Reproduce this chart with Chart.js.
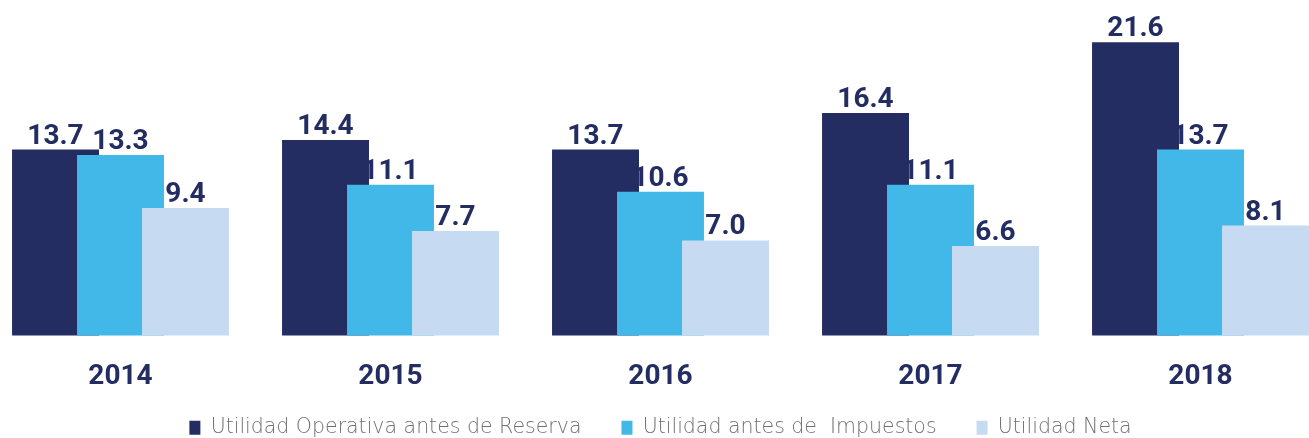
<!DOCTYPE html>
<html>
<head>
  <meta charset="UTF-8">
  <title>Utilidades 2014-2018</title>
  <script src="https://cdn.jsdelivr.net/npm/chart.js"></script>
  <style>
    body { margin: 0; background: #fff; }
    .chart-box { position: relative; width: 1309px; height: 438px; }
  </style>
</head>
<body>
  <div class="chart-box">
    <canvas id="utilChart"></canvas>
  </div>

  <script>
    // Data
    const years = ['2014', '2015', '2016', '2017', '2018'];
    const seriesNames = ['Utilidad Operativa antes de Reserva', 'Utilidad antes de  Impuestos', 'Utilidad Neta'];
    const operativa = [13.7, 14.4, 13.7, 16.4, 21.6];
    const antesImpuestos = [13.3, 11.1, 10.6, 11.1, 13.7];
    const neta = [9.4, 7.7, 7.0, 6.6, 8.1];

    const colors = ['#232d62', '#42b8e8', '#c6daf1'];
    const navy = '#232d62';

    // bars overlap; draw them left to right so the right one sits on top,
    // then the value labels and the year labels
    const drawInOrder = {
      id: 'drawInOrder',
      beforeDatasetsDraw(chart) {
        chart.data.datasets.forEach((ds, i) => {
          chart.getDatasetMeta(i).controller.draw();
        });
        return false;
      },
      afterDraw(chart) {
        const ctx = chart.ctx;
        ctx.save();
        ctx.font = 'bold 28px Roboto, sans-serif';
        ctx.fillStyle = navy;
        ctx.textAlign = 'center';
        ctx.textBaseline = 'alphabetic';
        chart.data.datasets.forEach((ds, i) => {
          chart.getDatasetMeta(i).data.forEach((bar, j) => {
            ctx.fillText(ds.data[j].toFixed(1), bar.x, bar.y - 6);
          });
        });
        // year labels sit lower than the axis box allows
        const xScale = chart.scales.x;
        ctx.textBaseline = 'middle';
        xScale.ticks.forEach((t, i) => {
          ctx.fillText(xScale.getLabelForValue(t.value), xScale.getPixelForTick(i), chart.chartArea.bottom + 41);
        });
        ctx.restore();
      }
    };

    new Chart(document.getElementById('utilChart').getContext('2d'), {
      type: 'bar',
      data: {
        labels: years,
        datasets: [
          { label: seriesNames[0], data: operativa, backgroundColor: colors[0] },
          { label: seriesNames[1], data: antesImpuestos, backgroundColor: colors[1] },
          { label: seriesNames[2], data: neta, backgroundColor: colors[2] }
        ]
      },
      options: {
        responsive: true,
        maintainAspectRatio: false,
        animation: false,
        categoryPercentage: 0.722,
        barPercentage: 1.338,
        layout: { padding: { left: 120.5, right: 108.5, top: 0, bottom: -10 } },
        scales: {
          x: {
            offset: false,
            grid: { display: false, drawTicks: false },
            border: { display: false },
            ticks: { display: false },
            afterFit(scale) { scale.height = 42; }
          },
          y: { display: false, min: 0, max: 24.72 }
        },
        plugins: {
          tooltip: { enabled: false },
          legend: {
            position: 'bottom',
            labels: {
              boxWidth: 11,
              boxHeight: 14,
              padding: 40,
              color: '#707070',
              font: { family: 'DejaVu Sans', size: 20.5, weight: 200 }
            }
          }
        }
      },
      plugins: [drawInOrder]
    });
  </script>
</body>
</html>
